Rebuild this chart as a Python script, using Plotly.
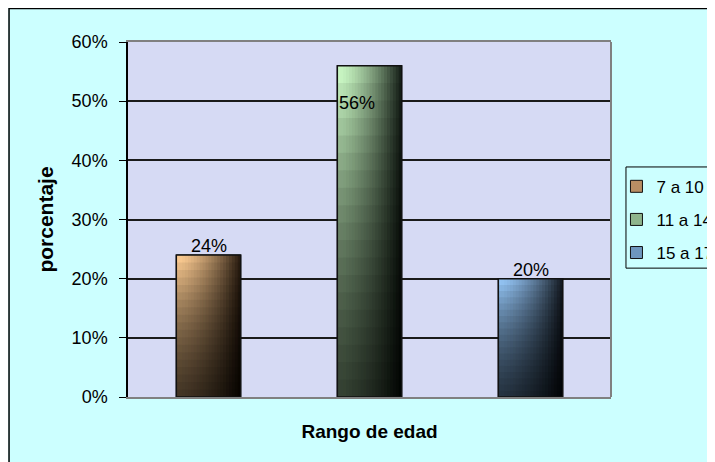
import plotly.graph_objects as go

# datos
rangos = ['7 a 10', '11 a 14', '15 a 17']
porcentajes = [0.24, 0.56, 0.20]

# colores claro / oscuro por barra (degradado tipo Excel)
claros = ['#FAC990', '#C8F6C2', '#92C2F2']
oscuros = ['#2B1E12', '#18221A', '#161C24']
medios = ['#B98E64', '#8FB48C', '#6E96BE']

font = 'Arial, Liberation Sans, sans-serif'
W = 0.4  # ancho de barra
N = 22   # pasos horizontales
M = 18   # pasos verticales


def mix(c1, c2, t):
    a = [int(c1[i:i + 2], 16) for i in (1, 3, 5)]
    b = [int(c2[i:i + 2], 16) for i in (1, 3, 5)]
    return 'rgb(%d,%d,%d)' % tuple(round(a[j] + (b[j] - a[j]) * t) for j in range(3))


fig = go.Figure()

for i, (r, v) in enumerate(zip(rangos, porcentajes)):
    # traza de leyenda
    fig.add_trace(go.Bar(x=[r], y=[v], width=W, name=r, legendgroup=r,
                         marker=dict(color=medios[i], line=dict(color='#111', width=1)),
                         hoverinfo='skip'))
    # degradado horizontal
    for k in range(N):
        w = W * (1 - k / N)
        t = (k / (N - 1)) ** 1.4
        fig.add_trace(go.Bar(x=[r], y=[v], width=w, offset=W / 2 - w, showlegend=False,
                             legendgroup=r, marker=dict(color=mix(claros[i], oscuros[i], t), line_width=0),
                             hoverinfo='skip'))
    # oscurecimiento hacia abajo
    for j in range(1, M + 1):
        fig.add_trace(go.Bar(x=[r], y=[v * j / (M + 1)], width=W, showlegend=False, legendgroup=r,
                             marker=dict(color='black', opacity=0.065, line_width=0), hoverinfo='skip'))
    # contorno
    fig.add_trace(go.Bar(x=[r], y=[v], width=W, showlegend=False, legendgroup=r,
                         marker=dict(color='rgba(0,0,0,0)', line=dict(color='#111', width=1.5)),
                         hoverinfo='skip'))

# etiquetas de valor
for i, (r, v) in enumerate(zip(rangos, porcentajes)):
    txt = '%d%%' % round(v * 100)
    if v > 0.5:
        fig.add_annotation(x=r, y=v, text=txt, showarrow=False, xanchor='left', yanchor='middle',
                           xshift=-33, yshift=-37, font=dict(family=font, size=18, color='black'))
    else:
        fig.add_annotation(x=r, y=v, text=txt, showarrow=False, yanchor='bottom', yshift=-3,
                           font=dict(family=font, size=18, color='black'))

fig.update_layout(
    width=715, height=462,
    margin=dict(l=120, r=112, t=34, b=73, autoexpand=False),
    barmode='overlay',
    paper_bgcolor='#CCFFFF',
    plot_bgcolor='#D6DAF4',
    font=dict(family=font, size=18, color='black'),
    showlegend=True,
    legend=dict(xref='container', yref='container', x=0.851, xanchor='left', y=0.652, yanchor='top',
                bgcolor='rgba(0,0,0,0)', borderwidth=0,
                traceorder='grouped', tracegroupgap=8,
                font=dict(family=font, size=17)),
    shapes=[
        # borde del grafico
        dict(type='rect', xref='paper', yref='paper', x0=-0.2463, x1=1.4, y0=-0.4, y1=1.0943,
             line=dict(color='black', width=1.5)),
        # borde derecho gris del area
        dict(type='line', xref='paper', yref='paper', x0=1, x1=1, y0=0, y1=1,
             line=dict(color='#808080', width=2)),
        # caja de leyenda
        dict(type='rect', xref='paper', yref='paper', x0=1.031, x1=1.4, y0=0.363, y1=0.648,
             line=dict(color='black', width=1)),
    ],
)

fig.update_xaxes(showticklabels=False, showgrid=False, zeroline=False, automargin=False,
                 showline=True, linecolor='#808080', linewidth=2, mirror=True, ticks='',
                 title=dict(text='<b>Rango de edad</b>', standoff=27,
                            font=dict(family=font, size=19)))
fig.update_yaxes(range=[0, 0.6], dtick=0.1, tickformat='.0%', showgrid=True, automargin=False,
                 gridcolor='#1a1a1a', gridwidth=1.5, zeroline=False,
                 showline=True, linecolor='black', linewidth=1.5,
                 ticks='outside', ticklen=7, tickcolor='black', ticklabelstandoff=8,
                 tickfont=dict(family=font, size=18),
                 title=dict(text='<b>porcentaje</b>', standoff=12,
                            font=dict(family=font, size=21)))

fig.write_html('out.html')
